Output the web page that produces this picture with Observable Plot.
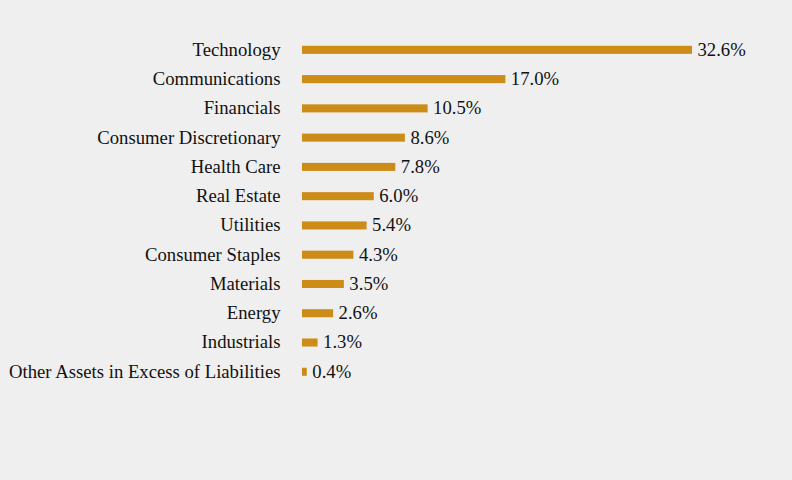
<!DOCTYPE html>
<html>
<head>
<meta charset="utf-8">
<script src="https://cdn.jsdelivr.net/npm/d3@7"></script>
<script src="https://cdn.jsdelivr.net/npm/@observablehq/plot@0.6"></script>
<style>
  html, body { margin: 0; padding: 0; background: #efefef; }
  #chart { width: 792px; height: 480px; }
</style>
</head>
<body>
<div id="chart"></div>
<script>
const sectors = [
  "Technology",
  "Communications",
  "Financials",
  "Consumer Discretionary",
  "Health Care",
  "Real Estate",
  "Utilities",
  "Consumer Staples",
  "Materials",
  "Energy",
  "Industrials",
  "Other Assets in Excess of Liabilities"
];
const weights = [32.6, 17.0, 10.5, 8.6, 7.8, 6.0, 5.4, 4.3, 3.5, 2.6, 1.3, 0.4];
const labels = ["32.6%", "17.0%", "10.5%", "8.6%", "7.8%", "6.0%", "5.4%", "4.3%", "3.5%", "2.6%", "1.3%", "0.4%"];

const data = sectors.map((s, i) => ({sector: s, value: weights[i], label: labels[i]}));
const serifFont = "'Liberation Serif', Tinos, 'Times New Roman', Times, serif";

const chart = Plot.plot({
  width: 792,
  height: 480,
  marginLeft: 302,
  marginRight: 100,
  marginTop: 35.2,
  marginBottom: 93.6,
  style: {background: "#efefef", fontSize: "18.7px", color: "#111"},
  x: {domain: [0, 32.6], axis: null},
  y: {domain: sectors, padding: 0, round: false, label: null},
  marks: [
    Plot.barX(data, {x: "value", y: "sector", fill: "#cd8c18", insetTop: 10.6, insetBottom: 10.6}),
    Plot.text(data, {x: "value", y: "sector", text: "label", textAnchor: "start", dx: 5, dy: -0.5, fill: "#111", fontSize: 18.7, fontFamily: serifFont}),
    Plot.axisY({tickSize: 0, tickPadding: 22, fontSize: 18.7, label: null, fill: "#111", dy: -0.5, fontFamily: serifFont})
  ]
});
document.getElementById("chart").append(chart);
</script>
</body>
</html>
